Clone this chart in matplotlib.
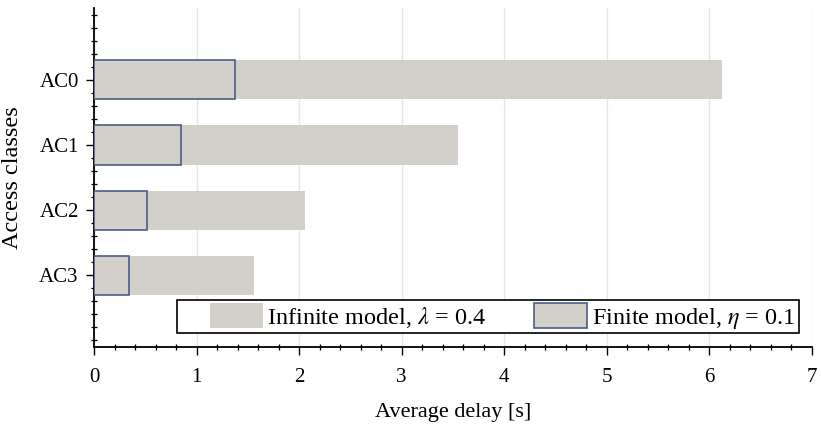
import matplotlib.pyplot as plt
from matplotlib.patches import Rectangle
from matplotlib.legend_handler import HandlerPatch
from matplotlib.ticker import MultipleLocator

# access classes, top to bottom
classes = ['AC0', 'AC1', 'AC2', 'AC3']
infinite = [6.13, 3.55, 2.06, 1.56]
finite = [1.38, 0.85, 0.52, 0.345]

plt.rcParams['font.family'] = ['Liberation Serif', 'DejaVu Serif']
plt.rcParams['mathtext.fontset'] = 'stix'

fill = '#d3d0c9'
edge = '#4a5c8c'


# legend swatch drawn at the right end of a wider handle box
def swatch(legend, orig_handle, xdescent, ydescent, width, height, fontsize):
    w = 38
    return Rectangle((-xdescent + width - w, -ydescent), w, height)


def from_first_bar(tgt, src):
    tgt.update_from(src.patches[0])


fig = plt.figure(figsize=(8.21, 4.33), dpi=100)
ax = fig.add_axes([0.1145, 0.199, 0.874, 0.782])

ypos = [3 - i for i in range(len(classes))]
b1 = ax.barh(ypos, infinite, height=0.6, color=fill, edgecolor='none',
             label='Infinite model, $\\lambda$ = 0.4', zorder=2)
b2 = ax.barh(ypos, finite, height=0.6, color=fill, edgecolor=edge, linewidth=1.2,
             label='Finite model, $\\eta$ = 0.1', zorder=3)

ax.set_xlim(0, 7)
ax.set_ylim(-1.1, 4.1)
ax.set_yticks(ypos)
ax.set_yticklabels(classes)
ax.xaxis.set_major_locator(MultipleLocator(1))
ax.xaxis.set_minor_locator(MultipleLocator(0.2))
ax.yaxis.set_minor_locator(MultipleLocator(0.2))
ax.grid(axis='x', which='major', color='#e6e6e6', linewidth=1, zorder=0)
ax.set_axisbelow(True)

for s in ['top', 'right']:
    ax.spines[s].set_visible(False)
for s in ['left', 'bottom']:
    ax.spines[s].set_linewidth(1.3)

ax.tick_params(which='major', direction='out', length=6, width=1, labelsize=15, pad=5)
ax.tick_params(which='minor', direction='inout', length=5, width=0.9)
ax.tick_params(axis='x', pad=9)

ax.set_xlabel('Average delay [s]', fontsize=16, labelpad=12)
ax.set_ylabel('Access classes', fontsize=17.5, labelpad=12)

hm = HandlerPatch(patch_func=swatch, update_func=from_first_bar)
leg = ax.legend(loc='lower right', ncol=2, fontsize=17.5, frameon=True, fancybox=False,
                edgecolor='black', framealpha=1, handlelength=3.4, handleheight=1.2,
                columnspacing=0.75, borderaxespad=0.3, handletextpad=0.2,
                borderpad=0.12, bbox_to_anchor=(0.992, 0.018),
                handler_map={b1: hm, b2: hm})
leg.get_frame().set_linewidth(1.2)

fig.savefig('out.png', dpi=100)
